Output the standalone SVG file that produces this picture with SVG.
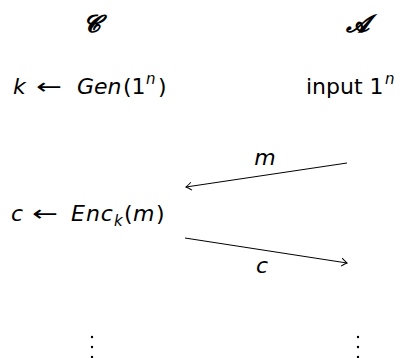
<svg xmlns="http://www.w3.org/2000/svg" width="410" height="358" viewBox="0 0 410 358">
<style>
text{font-family:"DejaVu Sans","Liberation Sans",sans-serif;font-size:22px;fill:#000}
.it{font-style:italic}
.sup{font-size:15px}
.cal{font-family:"DejaVu Serif","Liberation Serif",serif;font-weight:bold;font-style:italic;font-size:24px;text-anchor:middle}
.ln{stroke:#000;stroke-width:1;fill:none}
.dot{fill:#000}
</style>
<defs>
<marker id="hd" viewBox="-7 -5 9 10" markerWidth="9" markerHeight="10" refX="0" refY="0" orient="auto" markerUnits="userSpaceOnUse">
<path d="M-5.5,-4 Q-1.5,-0.8 0,0 Q-1.5,0.8 -5.5,4" stroke="#000" stroke-width="1" fill="none"/>
</marker>
</defs>
<rect width="410" height="358" fill="#fff"/>
<g id="challenger-title"><text class="cal" x="91" y="32">𝓒</text></g>
<g id="adversary-title"><text class="cal" x="357" y="32">𝓐</text></g>
<g id="gen">
<text class="it" x="13" y="94">k</text>
<text x="36" y="94" textLength="26" lengthAdjust="spacingAndGlyphs">←</text>
<text class="it" x="77" y="94">Gen</text>
<text x="123" y="94">(1</text>
<text class="it sup" x="146" y="84">n</text>
<text x="158" y="94">)</text>
</g>
<g id="input">
<text x="306" y="94">input 1</text>
<text class="it sup" x="385" y="84">n</text>
</g>
<g id="enc">
<text class="it" x="11" y="221">c</text>
<text x="32" y="221" textLength="26" lengthAdjust="spacingAndGlyphs">←</text>
<text class="it" x="71" y="221" letter-spacing="1">Enc</text>
<text class="it sup" x="114" y="226">k</text>
<text x="124" y="221">(</text>
<text class="it" x="133" y="221">m</text>
<text x="156" y="221">)</text>
</g>
<g id="vdots-left"><circle class="dot" cx="92" cy="337" r="1.2"/><circle class="dot" cx="92" cy="347" r="1.2"/><circle class="dot" cx="92" cy="357" r="1.2"/></g>
<g id="vdots-right"><circle class="dot" cx="358" cy="337" r="1.2"/><circle class="dot" cx="358" cy="347" r="1.2"/><circle class="dot" cx="358" cy="357" r="1.2"/></g>
<g id="connectors">
<line class="ln" x1="347" y1="163" x2="186" y2="187" marker-end="url(#hd)"/>
<text class="it" x="265" y="165" text-anchor="middle">m</text>
<line class="ln" x1="185" y1="238" x2="347" y2="263" marker-end="url(#hd)"/>
<text class="it" x="262" y="273" text-anchor="middle">c</text>
</g>
</svg>
